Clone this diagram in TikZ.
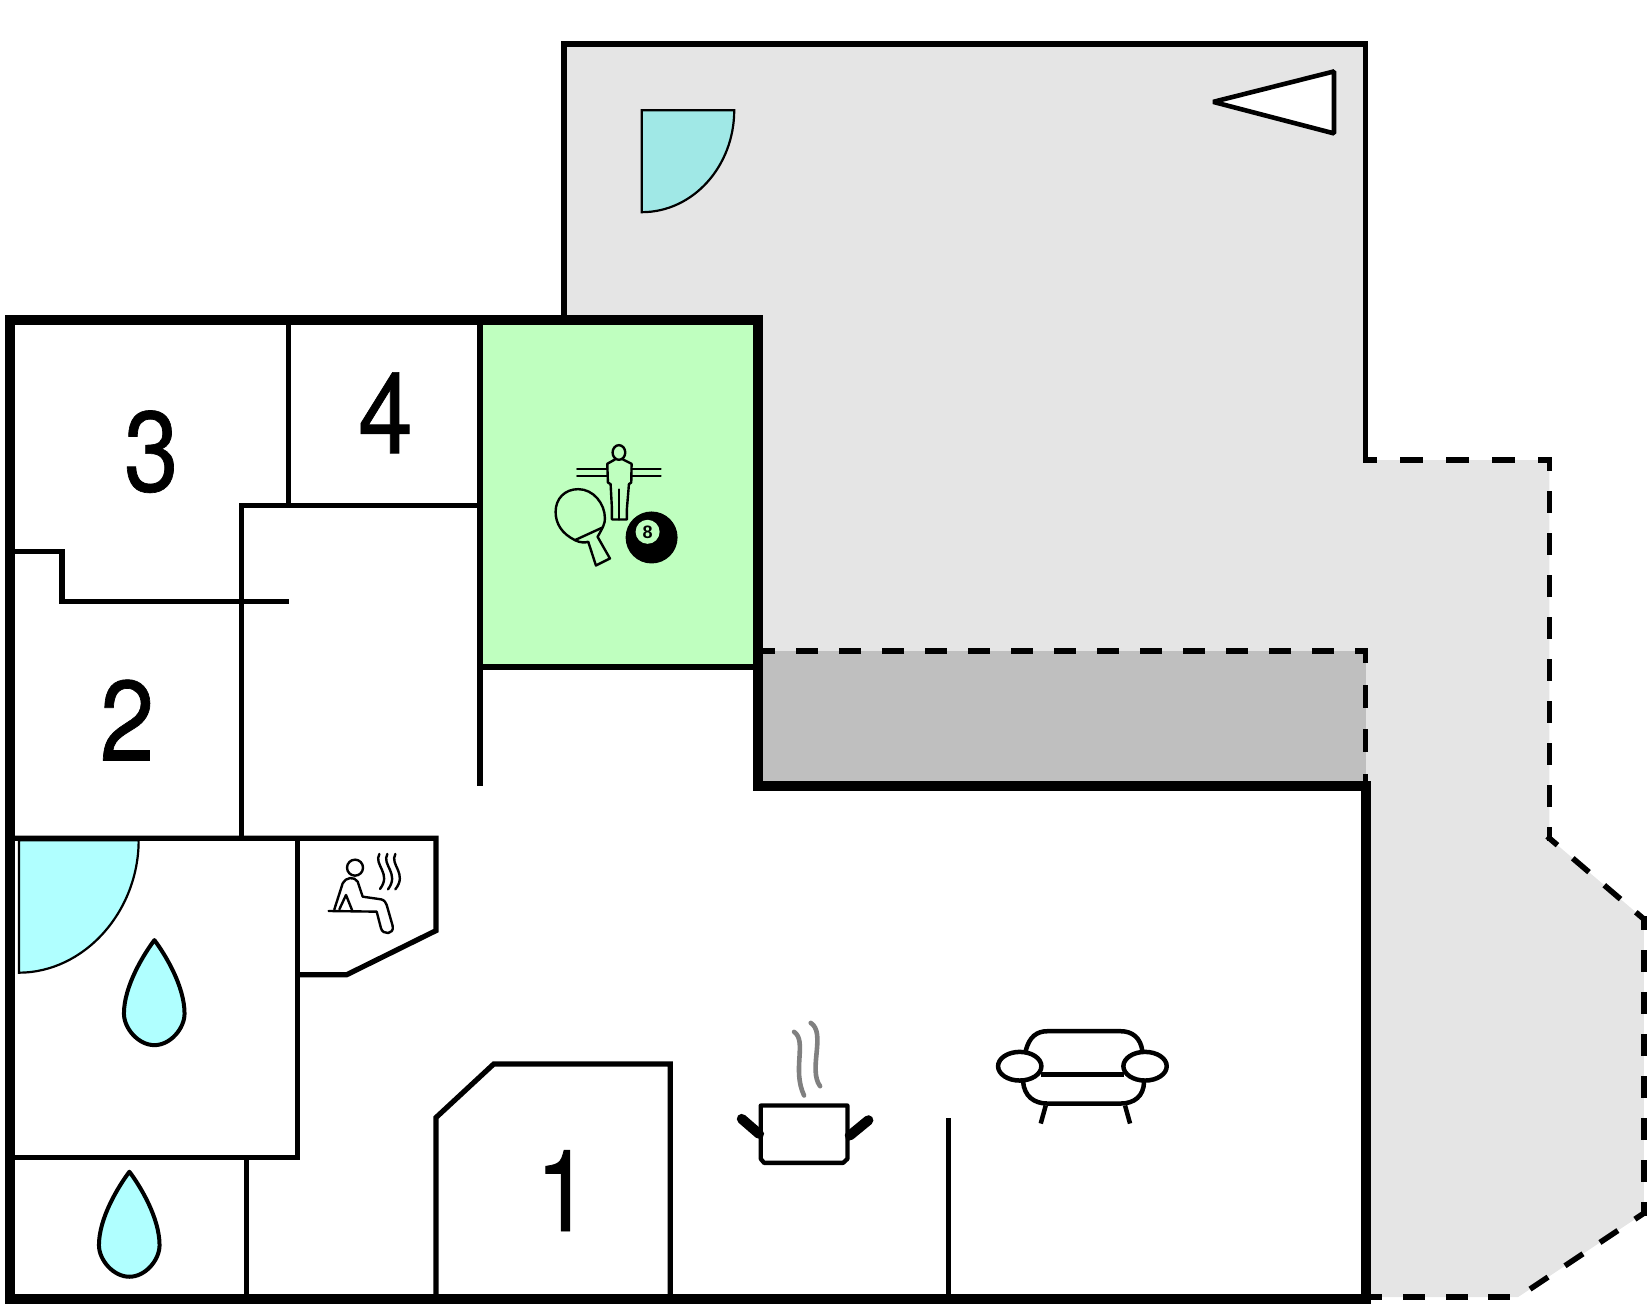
\documentclass[tikz,border=0pt]{standalone}
\usepackage{fontspec}
\setmainfont{Liberation Sans}
\newfontfamily\roomfont[FakeStretch=0.86,FakeBold=0.6]{TeX Gyre Heros}
\definecolor{yard}{HTML}{E5E5E5}
\definecolor{roofed}{HTML}{BFBFBF}
\definecolor{games}{HTML}{BFFFBF}
\definecolor{water}{HTML}{B0FFFF}
\definecolor{pool}{HTML}{A0E8E6}
\newcommand{\dropoutline}{(147,895) .. controls (136.5,909) and (118,939) .. (118,965) .. controls (118,979) and (131.7,995) .. (147,995) .. controls (162.3,995) and (175.7,979) .. (175.7,965) .. controls (175.7,939) and (157.5,909) .. (147,895) -- cycle}
\tikzset{
  outer/.style={line width=10pt,line join=miter},
  wall/.style={line width=5.2pt,line join=miter},
  fence/.style={line width=5.3pt,line join=miter},
  yardseg/.style n args={3}{line width=5.6pt,line cap=rect,dash pattern=on #1pt off #2pt,dash phase=#3pt},
  glyph/.style={line width=2.4pt,line join=round,line cap=round},
  symline/.style={line width=4.5pt,line join=round},
  drop/.style={line width=4pt,fill=water,line join=round},
  doorleaf/.style={line width=2.2pt},
  digit/.style={inner sep=0pt,font=\roomfont\fontsize{114}{114}\selectfont},
  iconscale/.style={x=0.3333pt,y=-0.3333pt}
}
\begin{document}
\begin{tikzpicture}[x=1.0504pt,y=-1.0504pt]
\useasboundingbox (0,0) rectangle (1568,1241.5);
% garden
\fill[yard] (537,42) -- (1300,42) -- (1300,438) -- (1475,438) -- (1475,798) -- (1565,875) -- (1565,1155) -- (1445,1235) -- (537,1235) -- cycle;
\fill[roofed] (722,620) rectangle (1300,748);
\draw[fence] (537,305) -- (537,42) -- (1300,42) -- (1300,440);
\draw[yardseg={17.98}{27.98}{8.99}] (1300,438) -- (1475,438);
\draw[yardseg={16}{26}{8}] (1475,438) -- (1475,798);
\draw[yardseg={15.75}{25.75}{7.875}] (1475,798) -- (1565,875);
\draw[yardseg={16}{26}{8}] (1565,875) -- (1565,1155);
\draw[yardseg={16}{26}{8}] (1565,1155) -- (1445,1235);
\draw[yardseg={16.3}{26.3}{32.1}] (1445,1235) -- (1300,1235);
\draw[yardseg={16.5}{26.5}{8.25}] (727,620) -- (1300,620);
\draw[yardseg={17.4}{27.4}{8.7}] (1300,620) -- (1300,748);
% pool door leaf, triangle
\draw[doorleaf,fill=pool] (611,105) -- (699,105) .. controls (699,158) and (660,202) .. (611,202) -- cycle;
\draw[line width=4.6pt,fill=white,line join=bevel] (1155,97) -- (1270,68) -- (1270,127) -- cycle;
% house interior
\fill[white] (10,305) -- (722,305) -- (722,748) -- (1300,748) -- (1300,1235) -- (10,1235) -- cycle;
\fill[games] (457,305) rectangle (722,635);
% inner walls
\draw[wall] (275,305) -- (275,481);
\draw[wall] (230,798) -- (230,481) -- (457,481);
\draw[wall] (457,305) -- (457,748);
\draw[wall] (457,635) -- (722,635);
\draw[wall] (10,525) -- (59,525) -- (59,573) -- (275,573);
\draw[doorleaf,fill=water] (18,800) -- (132,800) .. controls (132,868) and (80,926) .. (18,926) -- cycle;
\draw[wall] (10,798) -- (415,798) -- (415,886) -- (330,928) -- (283,928);
\draw[wall] (283,798) -- (283,1102) -- (10,1102);
\draw[wall] (235,1102) -- (235,1235);
\draw[wall] (415,1235) -- (415,1064) -- (470,1013) -- (638,1013) -- (638,1235);
\draw[wall] (903,1235) -- (903,1064);
\draw[outer] (9.5,305) -- (722,305) -- (722,748) -- (1300,748) -- (1300,1236.3) -- (9.5,1236.3) -- cycle;
% digits
\node[digit] (rthree) at (144,430) {3};
\node[digit] (rfour) at (367,393) {4};
\node[digit] (rtwo) at (121,685.5) {2};
\node[digit] (rone) at (536,1133.5) {1};
% water drops
\draw[drop] \dropoutline;
\begin{scope}[shift={(-23.8,220.5)}]
\draw[drop] \dropoutline;
\end{scope}
% games icon
\begin{scope}[shift={(495,400)},iconscale]
\draw[glyph] (297,97) ellipse (19 and 22);
\draw[glyph] (285,118) -- (262,131) -- (264,187) -- (272,192) -- (276,265) -- (276,298) -- (321,298) -- (321,265) -- (327,192) -- (334,187) -- (335,131) -- (309,118);
\draw[glyph] (297,208) -- (297,298);
\draw[glyph] (172,146) -- (262,146) (172,167) -- (262,167) (335,146) -- (422,146) (335,167) -- (422,167);
\draw[glyph] (165,360) .. controls (125,340) and (107,310) .. (107,275) .. controls (107,235) and (135,207) .. (175,207) .. controls (220,207) and (255,250) .. (255,295) .. controls (255,310) and (250,320) .. (233,350);
\draw[glyph] (165,360) -- (248,322);
\draw[glyph] (165,360) .. controls (180,368) and (195,368) .. (205,365) -- (228,436) -- (270,415) -- (233,350);
\fill (395,352) circle (78);
\fill[games] (383,335) circle (36);
\node[inner sep=0pt,font=\fontsize{18}{18}\selectfont\bfseries] (eight) at (383,335) {8};
\end{scope}
% sauna icon
\begin{scope}[shift={(285,799.7)},iconscale]
\draw[glyph] (167,83) circle (24);
\draw[glyph] (105,208) -- (130,130) .. controls (138,112) and (165,108) .. (175,125) -- (190,170) -- (245,178) .. controls (255,180) and (260,188) .. (262,195) -- (280,258) .. controls (285,285) and (250,285) .. (245,265) -- (232,215) -- (88,213);
\draw[glyph] (120,208) -- (140,165) -- (158,210);
\draw[glyph] (240,42) .. controls (222,75) and (278,100) .. (242,147);
\draw[glyph] (264,42) .. controls (246,75) and (302,100) .. (266,148);
\draw[glyph] (288,42) .. controls (270,75) and (326,100) .. (288,148);
\end{scope}
% kitchen icon
\begin{scope}[shift={(684.6,951.6)},iconscale]
\draw[line width=4.3pt,line join=round] (125,318) -- (385,318) -- (385,478) -- (372,490) -- (135,490) -- (125,478) -- cycle;
\draw[line width=10pt,line cap=round] (68,358) -- (120,403);
\draw[line width=10pt,line cap=round] (448,362) -- (392,408);
\draw[line width=4.6pt,line cap=round,color=black!50] (225,97) .. controls (265,125) and (218,210) .. (255,288);
\draw[line width=4.6pt,line cap=round,color=black!50] (275,70) .. controls (322,100) and (266,210) .. (303,260);
\draw[symline] (920,155) .. controls (930,110) and (955,95) .. (985,95) -- (1205,95) .. controls (1240,95) and (1265,115) .. (1270,155);
\draw[symline] (965,225) -- (1215,225);
\draw[symline] (912,245) .. controls (915,290) and (945,312) .. (985,312) -- (1205,312) .. controls (1245,312) and (1275,290) .. (1275,245);
\draw[symline] (902,200) ellipse (65 and 43);
\draw[symline] (1278,200) ellipse (65 and 43);
\draw[symline] (980,318) -- (965,372);
\draw[symline] (1218,318) -- (1233,372);
\end{scope}
\end{tikzpicture}
\end{document}
